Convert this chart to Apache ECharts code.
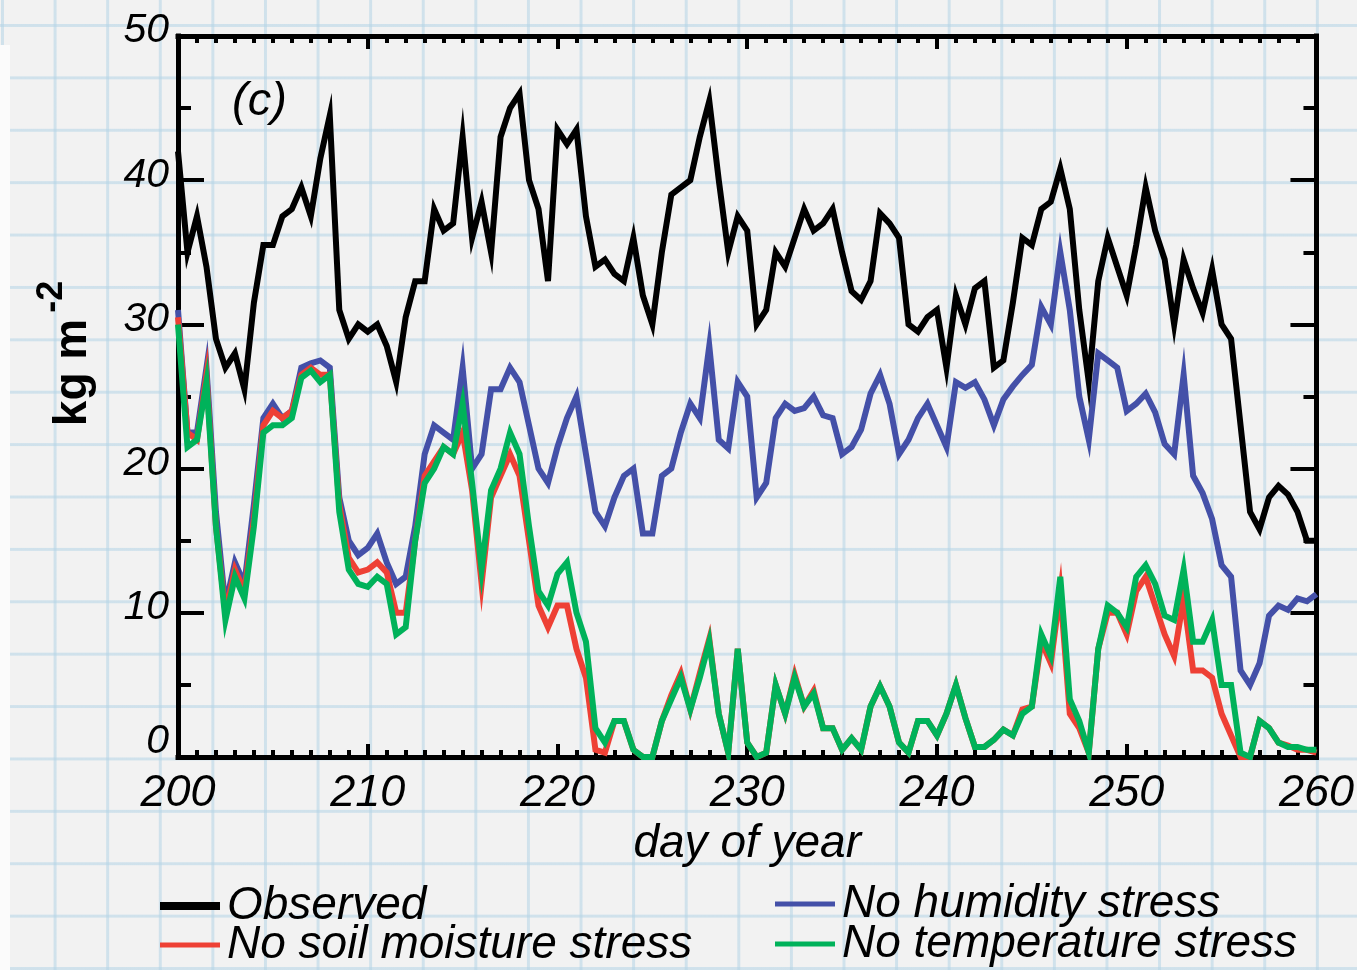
<!DOCTYPE html>
<html><head><meta charset="utf-8">
<script src="https://cdn.jsdelivr.net/npm/echarts@6/dist/echarts.min.js"></script>
<style>
html,body{margin:0;padding:0;background:#f2f2f2;}
#wrap{position:relative;width:1357px;height:970px;background-color:#f2f2f2;
background-image:linear-gradient(to right, rgba(180,212,230,0.55) 3px, transparent 3px),linear-gradient(to bottom, rgba(180,212,230,0.55) 3px, transparent 3px);
background-size:52.6px 52.4px;background-position:1px 24px;}
#strip{position:absolute;left:0;top:45px;width:10px;height:925px;background:#fbfbfb;}
#chart{position:absolute;left:0;top:0;width:1357px;height:970px;}
</style></head>
<body><div id="wrap"><div id="strip"></div><div id="chart"></div></div>
<script>
// day of year: first sample and sampling step (days)
const startDay = 200;
const stepDay = 0.5;
const xTicks = [200, 210, 220, 230, 240, 250, 260];
const yTicks = [0, 10, 20, 30, 40, 50];

// Observed (kg m-2)
const observed = [42,35,37.5,34,29,27,28,25.5,31.5,35.5,35.5,37.5,38,39.5,37.5,41.5,44.5,31,29,30,
29.5,30,28.5,26,30.5,33,33,38,36.5,37,43,36,38.5,35,43,45,46,40,38,33,
43.5,42.5,43.5,37.5,34,34.5,33.5,33,36,32,30,35,39,39.5,40,43,45.5,40,35,37.5,
36.5,30,31,35,34,36,38,36.5,37,38,35,32.3,31.7,33,37.7,37,36,30,29.5,30.5,
31,27,32,30,32.5,33,27,27.5,31.5,36,35.5,38,38.5,40.8,38,31,26,33,36,34,
32,35.5,39.5,36.5,34.5,30,34.5,32.5,30.8,33.8,30,29,23,17,15.8,18,18.8,18.2,17,15,15];

// No humidity stress
const noHumidity = [31,22.5,22.5,27,17,10.5,13.5,12,17.5,23.5,24.5,23.5,24,27,27.3,27.5,27,18,15,14,
14.5,15.5,13.5,12,12.5,16,21,23,22.5,22,27,20,21,25.5,25.5,27,26,23,20,19,
21.5,23.5,25,21,17,16,18,19.5,20,15.5,15.5,19.5,20,22.5,24.5,23.5,28.5,22,21.4,26,
25,18,19,23.5,24.5,24,24.2,25,23.7,23.5,21,21.5,22.7,25.2,26.5,24.5,21,22,23.5,24.5,
23,21.5,26,25.6,26,24.8,23,24.8,25.7,26.5,27.2,31.2,30,35,31,25,22,28,27.5,27,
24,24.5,25.2,23.9,21.7,21,26.5,19.5,18.3,16.5,13.3,12.5,6,5,6.5,9.8,10.5,10.2,11,10.8,11.3];

// No soil moisture stress
const noSoilMoisture = [30.5,22.5,22,26.5,16,10,13,11.5,16.5,23,24,23.5,24,26.5,27,26.5,26.5,17.5,13.8,12.8,
13,13.5,12.8,10,10,15,19.5,20.5,21.5,21,22.5,18.5,12,18,19.5,21,19.5,15,10.5,9,
10.5,10.5,7.5,5.5,0.5,0.3,2.5,2.5,0.5,0,0,2.5,4.3,5.8,3.3,5.8,8.2,3,0.3,7.5,
1,0,0.3,5,3,5.7,3.5,4.6,2,2,0.5,1.3,0.5,3.5,4.9,3.5,1,0.3,2.5,2.5,
1.5,3,5,2.7,0.7,0.7,1.2,1.9,1.5,3.3,3.5,8,6.5,11.5,3,2,0.3,7.5,10,10,
8.5,11.5,12.5,10.5,8.5,7,11,6,6,5.5,3,1.5,0,0,2.5,2,1,0.8,0.5,0.5,0.3];

// No temperature stress
const noTemperature = [30,21.5,22,26,16,9.5,12.5,11,16,22.5,23,23,23.5,26.3,26.8,26,26.5,17,13,12,
11.8,12.5,12,8.5,9,15,19,20,21.5,21,24.5,19,13,18.5,20,22.5,21,16,11.5,10.5,
12.7,13.5,10,8,2,1,2.5,2.5,0.5,0,0,2.5,4,5.5,3.3,5.5,8,3,0.3,7.5,
1,0,0.3,5,3,5.5,3.5,4.4,2,2,0.5,1.3,0.5,3.5,4.9,3.5,1,0.3,2.5,2.5,
1.5,3,5,2.7,0.7,0.7,1.2,1.9,1.5,3,3.5,8.5,7,12.5,4,2.5,0.3,7.5,10.5,10,
9,12.5,13.3,12,9.8,9.5,13,8,8,9.5,5,5,0.3,0,2.5,2,1,0.7,0.7,0.5,0.5];

const C_OBS = '#000000', C_HUM = '#4450a8', C_SOIL = '#ee4035', C_TEMP = '#00b25a';
const FONT = "'Liberation Sans',Arial,sans-serif";

const toPairs = arr => arr.map((v, i) => [startDay + i * stepDay, v]);

const axisLineStyle = {onZero: false, lineStyle: {color: '#000', width: 5, cap: 'square'}};
function xAxisDef(pos, labels) {
  return {
    type: 'value', position: pos, min: xTicks[0], max: xTicks[xTicks.length - 1], interval: 10,
    axisLine: axisLineStyle,
    axisTick: {inside: true, length: 13, lineStyle: {color: '#000', width: 4}},
    minorTick: {show: true, splitNumber: 10, length: 7, lineStyle: {color: '#000', width: 4}},
    splitLine: {show: false}, minorSplitLine: {show: false},
    axisLabel: labels ? {fontFamily: FONT, fontStyle: 'italic', fontSize: 45, color: '#000', margin: 14} : {show: false}
  };
}
function yAxisDef(pos, labels) {
  return {
    type: 'value', position: pos, min: yTicks[0], max: yTicks[yTicks.length - 1], interval: 10,
    axisLine: axisLineStyle,
    axisTick: {inside: true, length: 26, lineStyle: {color: '#000', width: 4}},
    minorTick: {show: true, splitNumber: 2, length: 13, lineStyle: {color: '#000', width: 4}},
    splitLine: {show: false}, minorSplitLine: {show: false},
    axisLabel: labels ? {
      margin: 9,
      formatter: v => v === 0 ? '{z|0}' : '{n|' + v + '}',
      rich: {
        n: {fontFamily: FONT, fontStyle: 'italic', fontSize: 41, color: '#000', padding: [0, 0, 10, 0]},
        z: {fontFamily: FONT, fontStyle: 'italic', fontSize: 41, color: '#000', padding: [0, 0, 30, 0]}
      }
    } : {show: false}
  };
}

const legendText = {fontFamily: FONT, fontStyle: 'italic', fontSize: 46, color: '#000'};
function legendDef(name, left, top, h) {
  return {data: [name], left: left, top: top, orient: 'horizontal', padding: 0,
    icon: 'rect', itemWidth: 60, itemHeight: h, itemGap: 0,
    textStyle: Object.assign({padding: [0, 0, 0, 2]}, legendText)};
}

const bottomX = xAxisDef('bottom', true);
bottomX.name = 'day of year';
bottomX.nameLocation = 'middle';
bottomX.nameGap = 63;
bottomX.nameTextStyle = {fontFamily: FONT, fontStyle: 'italic', fontSize: 46, color: '#000'};

const leftY = yAxisDef('left', true);
leftY.name = '{a|kg m}{b|-2}';
leftY.nameLocation = 'middle';
leftY.nameRotate = 90;
leftY.nameGap = 66;
leftY.nameTextStyle = {padding: [0, 0, 0, 86], rich: {
  a: {fontFamily: FONT, fontWeight: 'bold', fontSize: 46, color: '#000'},
  b: {fontFamily: FONT, fontWeight: 'bold', fontSize: 36, color: '#000', padding: [0, 0, 42, 6]}
}};

const lineSeries = (name, arr, color, w, z) => ({
  name: name, type: 'line', data: toPairs(arr), color: color, symbol: 'none', z: z,
  xAxisIndex: 0, yAxisIndex: 0,
  lineStyle: {color: color, width: w, join: 'miter', cap: 'butt'}
});

const option = {
  animation: false,
  backgroundColor: 'transparent',
  grid: {left: 178, right: 39, top: 36, bottom: 213},
  title: {text: '(c)', left: 227, top: 73, textStyle: {fontFamily: FONT, fontStyle: 'italic', fontWeight: 'normal', fontSize: 47, color: '#000'}},
  xAxis: [bottomX, xAxisDef('top', false)],
  yAxis: [leftY, yAxisDef('right', false)],
  legend: [
    legendDef('Observed', 160, 883, 8),
    legendDef('No soil moisture stress', 160, 922, 5),
    legendDef('No humidity stress', 775, 881, 5),
    legendDef('No temperature stress', 775, 921, 5)
  ],
  series: [
    lineSeries('No humidity stress', noHumidity, C_HUM, 6, 2),
    lineSeries('No soil moisture stress', noSoilMoisture, C_SOIL, 6, 3),
    lineSeries('No temperature stress', noTemperature, C_TEMP, 6, 4),
    lineSeries('Observed', observed, C_OBS, 6, 5)
  ]
};
const chart = echarts.init(document.getElementById('chart'), null, {renderer: 'canvas'});
chart.setOption(option);
</script>
</body></html>
